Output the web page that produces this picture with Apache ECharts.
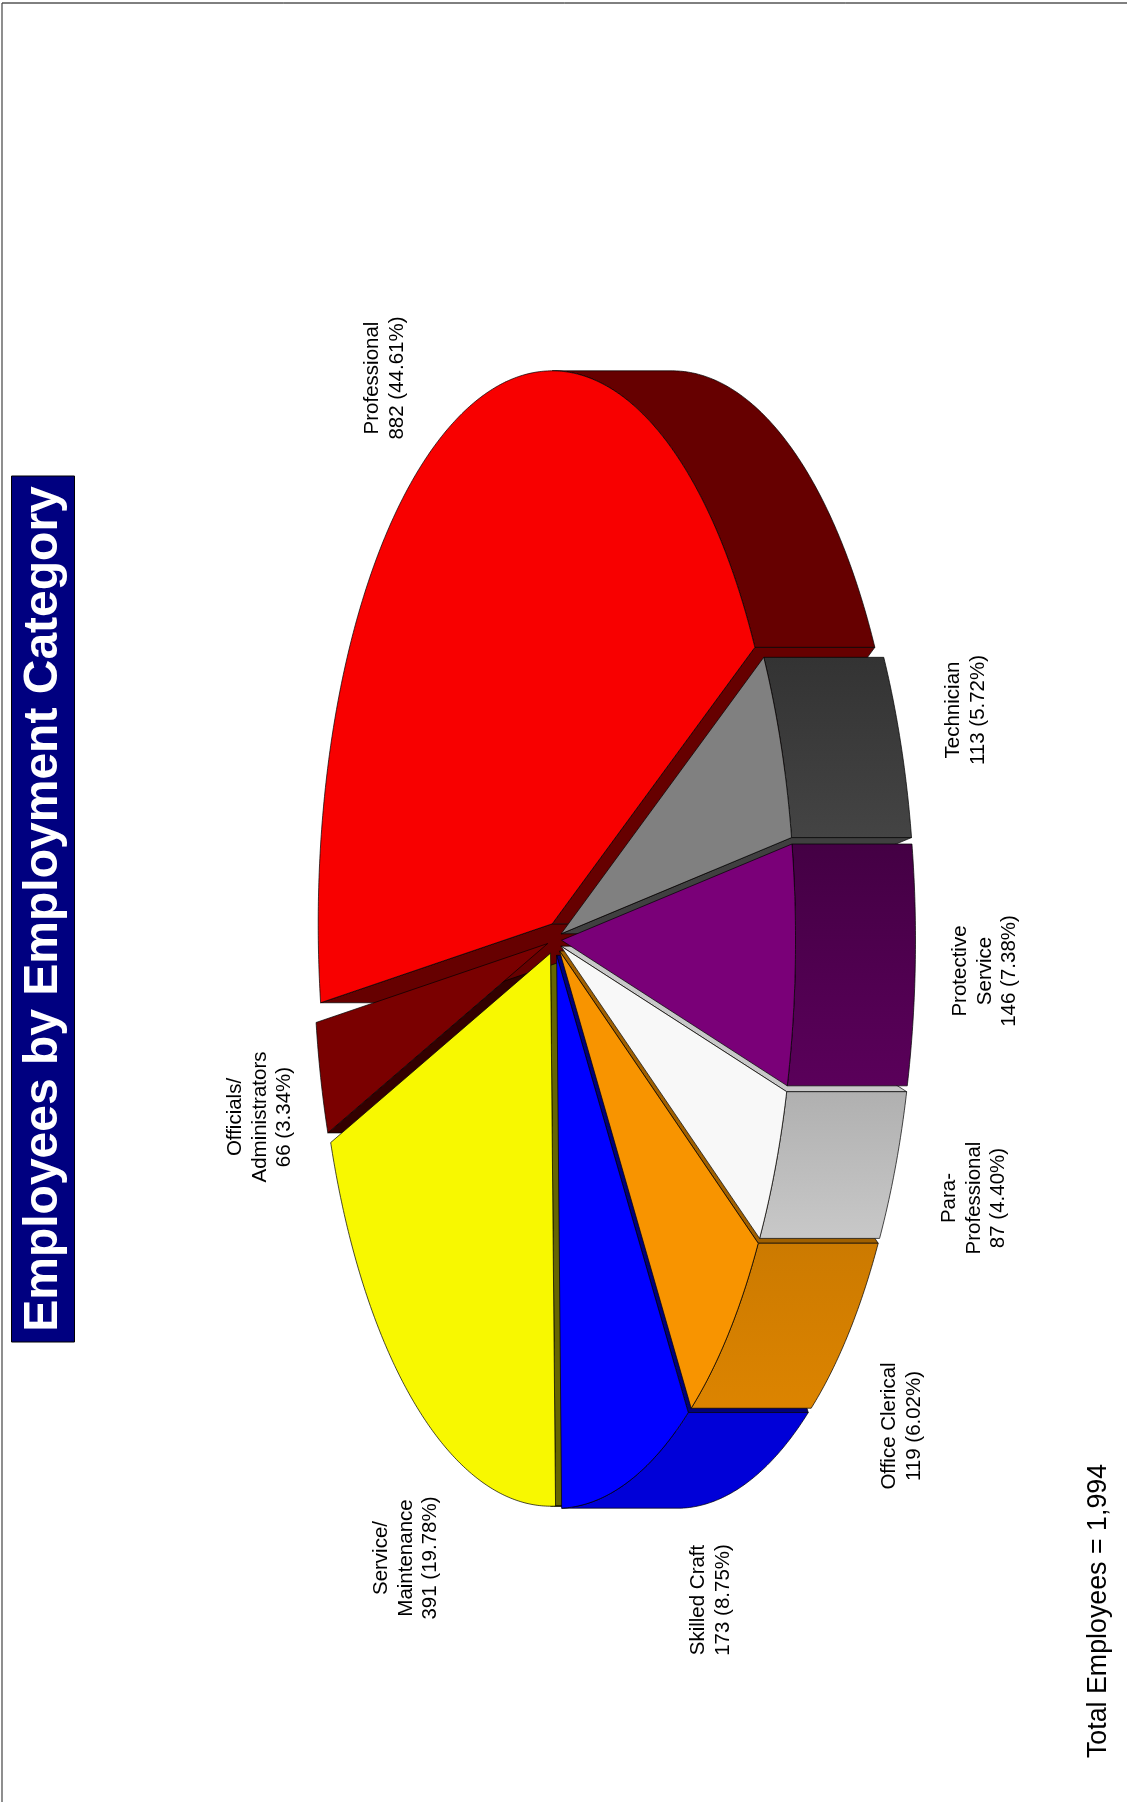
<!DOCTYPE html>
<html><head><meta charset="utf-8">
<style>html,body{margin:0;padding:0;background:#fff}#c{width:1127px;height:1802px}</style>
<script src="https://cdn.jsdelivr.net/npm/echarts@6/dist/echarts.min.js"></script>
</head><body><div id="c"></div>
<script>
// ---- data ----
const categories = ['Technician','Protective\nService','Para-\nProfessional','Office Clerical','Skilled Craft','Service/\nMaintenance','Officials/\nAdministrators','Professional'];
const values = [113,146,87,119,173,391,66,882];
const titleText = 'Employees by Employment Category';
const totalText = 'Total Employees = 1,994';
// ---- styling ----
const faceColors = ['#808080','#7a0078','#f8f8f8','#f89400','#0000ff','#f8f800','#7a0000','#f80000'];
const wallColors = ['#404040','#3a003a','#c8c8c8','#a06000','#00007a','#666600','#330000','#660000'];
const rimTop = ['#333333','#440044','#b0b0b0','#cc7a00','#0000d8','#a0a000','#500000','#660000'];
const rimBottom = ['#444444','#5a005a','#c8c8c8','#dc8400','#0000d8','#a0a000','#500000','#660000'];
const edgeNudgeDeg = [0,-0.6,-1.9,-1.1,1.1,2.6,2.6,2.4,0];
const labelCentre = [[966,710],[985,971],[974,1198],[902,1426],[711,1600],[406,1558],[260,1117],[385,378]];
const FONT = '"Liberation Sans", Arial, sans-serif';
// ---- geometry ----
const CX=554.5, CY=939.5, RX=234, RY=553, DEPTH=120, EXPLODE=0.03, START=-30;
const sum = values.reduce((a,b)=>a+b,0);
const edges=[START]; values.forEach((v,i)=>edges.push(edges[i]+v/sum*360));
const edgesDeg = edges.map((e,i)=>e+edgeNudgeDeg[i]);
const rad=d=>d*Math.PI/180;
function sliceGeom(i){
  const a=edgesDeg[i], b=edgesDeg[i+1], m=(a+b)/2;
  const ox=CX+EXPLODE*RX*Math.cos(rad(m)), oy=CY+EXPLODE*RY*Math.sin(rad(m));
  const at=t=>[ox+RX*Math.cos(rad(t)), oy+RY*Math.sin(rad(t))];
  return {a,b,m,ox,oy,at};
}
const shift=(p,d)=>[p[0]+d,p[1]];
// paint list: walls, then rims, then faces
const order = values.map((v,i)=>i).sort((p,q)=>Math.cos(rad(sliceGeom(p).m))-Math.cos(rad(sliceGeom(q).m)));
const draw=[];
order.forEach(i=>draw.push([i,0]));
order.forEach(i=>draw.push([i,1]));
order.forEach(i=>draw.push([i,2]));

function polyFor(i,layer){
  const g=sliceGeom(i), pts=[];
  const apex=[g.ox,g.oy];
  if(layer===2){
    pts.push(apex);
    for(let t=g.a;t<g.b;t+=0.5) pts.push(g.at(t));
    pts.push(g.at(g.b));
    return [pts];
  }
  if(layer===1){
    // rim panel: only where the rim turns toward the extrusion side
    const ranges=[[-90,90],[270,450]];
    const out=[];
    ranges.forEach(([lo,hi])=>{
      const s=Math.max(g.a,lo), e=Math.min(g.b,hi);
      if(e-s<=0.05) return;
      const top=[],bot=[];
      for(let t=s;t<e;t+=0.5){top.push(g.at(t));}
      top.push(g.at(e));
      top.forEach(p=>bot.unshift(shift(p,DEPTH)));
      out.push(top.concat(bot));
    });
    return out;
  }
  // walls: the two straight cuts, kept when their outward side faces the extrusion
  const out=[];
  const pa=g.at(g.a), pb=g.at(g.b);
  const wall=(p,sign)=>{
    const dy=p[1]-apex[1];
    const nx=sign*dy; // outward normal x component
    if(nx>0) out.push([apex,p,shift(p,DEPTH),shift(apex,DEPTH)]);
  };
  wall(pa,1);
  wall(pb,-1);
  return out;
}
const chart=echarts.init(document.getElementById('c'),null,{renderer:'canvas'});
chart.setOption({
  animation:false,
  backgroundColor:'#fff',
  grid:{left:0,right:0,top:0,bottom:0},
  xAxis:{type:'value',min:0,max:1127,show:false},
  yAxis:{type:'value',min:0,max:1802,inverse:true,show:false},
  graphic:[
    {type:'line',silent:true,shape:{x1:2,y1:3,x2:1127,y2:3},style:{stroke:'#000',lineWidth:1}},
    {type:'line',silent:true,shape:{x1:2,y1:3,x2:2,y2:1802},style:{stroke:'#444',lineWidth:1.2}},
    {type:'rect',silent:true,z:5,shape:{x:11.5,y:476,width:63,height:866},style:{fill:'#000080',stroke:'#000',lineWidth:1}},
    {type:'text',silent:true,z:6,x:44,y:909,rotation:Math.PI/2,style:{text:titleText,fill:'#fff',font:'bold 48px '+FONT,align:'center',verticalAlign:'middle'}},
    {type:'text',silent:true,z:6,x:1099,y:1611,rotation:Math.PI/2,style:{text:totalText,fill:'#000',font:'26.8px '+FONT,align:'center',verticalAlign:'middle'}}
  ],
  series:[
   {type:'custom',coordinateSystem:'cartesian2d',silent:true,clip:false,
    data:draw.map((d,k)=>[k,d[0],d[1]]),
    renderItem:(params,api)=>{
      const i=api.value(1), layer=api.value(2);
      const polys=polyFor(i,layer);
      const fill= layer===2?faceColors[i]:layer===0?wallColors[i]:
        {type:'linear',x:0,y:0,x2:0,y2:1,colorStops:[{offset:0,color:rimTop[i]},{offset:1,color:rimBottom[i]}]};
      return {type:'group',children:polys.map(p=>({type:'polygon',
        shape:{points:p.map(q=>api.coord(q))},
        style:{fill:fill,stroke:'#000',lineWidth:0.7,lineJoin:'round'}}))};
    }},
   {type:'custom',coordinateSystem:'cartesian2d',silent:true,clip:false,z:4,
    data:values.map((v,i)=>[labelCentre[i][0],labelCentre[i][1],i]),
    renderItem:(params,api)=>{
      const i=api.value(2), c=api.coord([api.value(0),api.value(1)]);
      const txt=categories[i]+'\n'+values[i]+' ('+(values[i]/sum*100).toFixed(2)+'%)';
      return {type:'text',x:c[0],y:c[1],rotation:Math.PI/2,
        style:{text:txt,fill:'#000',font:'20.5px '+FONT,lineHeight:24.5,align:'center',verticalAlign:'middle'}};
    }}
  ]
});
</script></body></html>
